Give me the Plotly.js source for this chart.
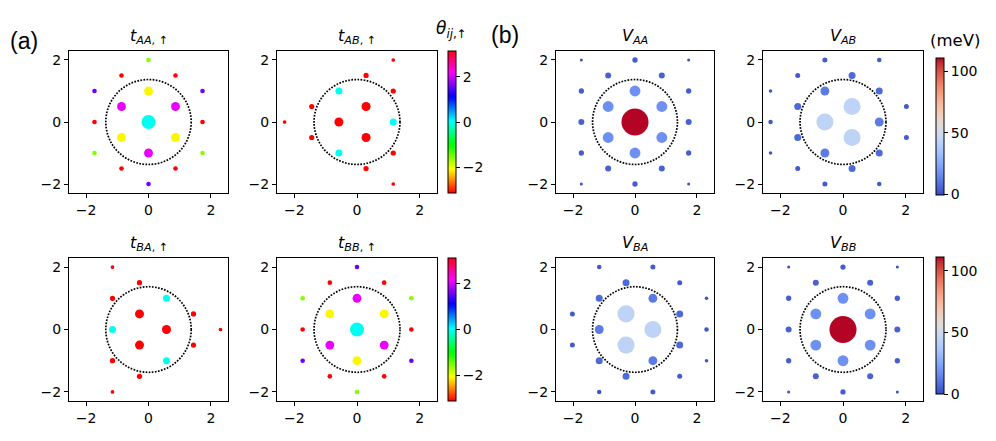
<!DOCTYPE html>
<html>
<head>
<meta charset="utf-8">
<script src="https://cdn.plot.ly/plotly-3.0.1.min.js"></script>
<style>html,body{margin:0;padding:0;background:#fff;}#plot{width:996px;height:441px;}</style>
</head>
<body>
<div id="plot"></div>
<script>
// ---------- data ----------
// A-A (and B-B) neighbour sites (lattice units)
const AA_x = [0, 0, 0.866, 0.866, 0, -0.866, -0.866, 0.866, 1.732, 0.866, -0.866, -1.732, -0.866, 0, 1.732, 1.732, 0, -1.732, -1.732, 1.732, 1.732, -1.732, -1.732];
const AA_y = [0, 1, 0.5, -0.5, -1, -0.5, 0.5, 1.5, 0, -1.5, -1.5, 0, 1.5, 2, 1, -1, -2, -1, 1, 2, -2, -2, 2];
// A-B neighbour sites
const AB_x = [-0.577, 0.289, 0.289, -0.577, -0.577, 1.155, 0.289, 1.155, 1.155, 0.289, -1.443, -1.443, -0.577, -0.577, 2.021, 2.021, -1.443, -1.443, -2.309, 1.155, 1.155, -2.309, -2.309];
const AB_y = [0, 0.5, -0.5, 1, -1, 0, 1.5, 1, -1, -1.5, -0.5, 0.5, 2, -2, 0.5, -0.5, 1.5, -1.5, 0, 2, -2, 1, -1];
// B-A sites are the mirror (x -> -x) of A-B sites
const BA_x = AB_x.map(v => -v);
const BA_y = AB_y.slice();

const PI = 3.1416;
// hopping magnitudes |t| (arb.) and phases theta_ij (rad)
const tAA_abs   = [20, 8, 8, 8, 8, 8, 8, 2.2, 2.2, 2.2, 2.2, 2.2, 2.2, 2.2, 2.2, 2.2, 2.2, 2.2, 2.2, 0, 0, 0, 0];
const tAA_phase = [0, -2.094, 2.094, -2.094, 2.094, -2.094, 2.094, -PI, -PI, -PI, -PI, -PI, -PI, -1.571, 1.571, -1.571, 1.571, -1.571, 1.571, 0, 0, 0, 0];
const tBB_abs   = tAA_abs.slice();
const tBB_phase = [0, 2.094, -2.094, 2.094, -2.094, 2.094, -2.094, -PI, -PI, -PI, -PI, -PI, -PI, 1.571, -1.571, 1.571, -1.571, 1.571, -1.571, 0, 0, 0, 0];
const tAB_abs   = [8.3, 8.3, 8.3, 5.0, 5.0, 5.0, 2.8, 2.8, 2.8, 2.8, 2.8, 2.8, 0, 0, 0, 0, 0, 0, 1.4, 1.4, 1.4, 0, 0];
const tAB_phase = [-PI, -PI, -PI, 0, 0, 0, -PI, -PI, -PI, -PI, -PI, -PI, 0, 0, 0, 0, 0, 0, -PI, -PI, -PI, 0, 0];
const tBA_abs   = tAB_abs.slice();
const tBA_phase = tAB_phase.slice();
// interaction V (meV)
const VAA = [111, 18, 18, 18, 18, 18, 18, 5.5, 5.5, 5.5, 5.5, 5.5, 5.5, 4.3, 4.3, 4.3, 4.3, 4.3, 4.3, 1.4, 1.4, 1.4, 1.4];
const VBB = VAA.slice();
const VAB = [44, 44, 44, 12, 12, 12, 7.4, 7.4, 7.4, 7.4, 7.4, 7.4, 3.8, 3.8, 3.8, 3.8, 3.8, 3.8, 3.1, 3.1, 3.1, 1.9, 1.9];
const VBA = VAB.slice();

const circleR = 1.37;
const thetaTicks = [-2, 0, 2];
const VTicks = [0, 50, 100];

// ---------- styles ----------
const hsv = [
  [0, 'rgb(255,0,0)'], [0.1587, 'rgb(255,239,0)'], [0.1746, 'rgb(247,255,0)'],
  [0.3333, 'rgb(8,255,0)'], [0.3492, 'rgb(0,255,16)'], [0.5079, 'rgb(0,255,255)'],
  [0.6667, 'rgb(0,16,255)'], [0.6825, 'rgb(8,0,255)'], [0.8413, 'rgb(247,0,255)'],
  [0.8571, 'rgb(255,0,239)'], [1, 'rgb(255,0,24)']
];
const cwRGB = [[59,76,192],[68,90,204],[77,104,215],[87,117,225],[98,130,234],[108,142,241],[119,154,247],[130,165,251],[141,176,254],[152,185,255],[163,194,255],[174,201,253],[184,208,249],[194,213,244],[204,217,238],[213,219,230],[221,221,221],[229,216,209],[236,211,197],[241,204,185],[245,196,173],[247,187,160],[247,177,148],[247,166,135],[244,154,123],[241,141,111],[236,127,99],[229,112,88],[222,96,77],[213,80,66],[203,62,56],[192,40,47],[180,4,38]];
const coolwarm = cwRGB.map((c, i) => [i / (cwRGB.length - 1), 'rgb(' + c.join(',') + ')']);

const tSize = a => a.map(v => 3.13 * Math.sqrt(v));
const VSize = a => a.map(v => 2.57 * Math.sqrt(v));

const W = 996, H = 441;
const fx = px => px / W;
const fy = py => 1 - py / H;
const cols = [[69, 228], [277, 437], [556, 714], [763, 923]];
const rows = [[51, 193], [258, 401]];

function mk(x, y, size, color, ca, idx) {
  const s = idx === 1 ? '' : String(idx);
  return {
    type: 'scatter', mode: 'markers', x: x, y: y,
    xaxis: 'x' + s, yaxis: 'y' + s, hoverinfo: 'skip', cliponaxis: true,
    marker: {size: size, color: color, coloraxis: ca, line: {width: 0}, opacity: 1}
  };
}

const data = [
  mk(AA_x, AA_y, tSize(tAA_abs), tAA_phase, 'coloraxis', 1),
  mk(AB_x, AB_y, tSize(tAB_abs), tAB_phase, 'coloraxis', 2),
  mk(BA_x, BA_y, tSize(tBA_abs), tBA_phase, 'coloraxis2', 3),
  mk(AA_x, AA_y, tSize(tBB_abs), tBB_phase, 'coloraxis2', 4),
  mk(AA_x, AA_y, VSize(VAA), VAA, 'coloraxis3', 5),
  mk(AB_x, AB_y, VSize(VAB), VAB, 'coloraxis3', 6),
  mk(BA_x, BA_y, VSize(VBA), VBA, 'coloraxis4', 7),
  mk(AA_x, AA_y, VSize(VBB), VBB, 'coloraxis4', 8)
];

const layout = {
  width: W, height: H,
  margin: {l: 0, r: 0, t: 0, b: 0},
  paper_bgcolor: 'white', plot_bgcolor: 'white',
  showlegend: false,
  font: {family: 'DejaVu Sans', size: 14, color: 'black'},
  annotations: [], shapes: []
};

const panelCol = [0, 1, 0, 1, 2, 3, 2, 3];
const panelRow = [0, 0, 1, 1, 0, 0, 1, 1];
const titles = [
  '<i>t</i><sub><i>AA</i>, ↑</sub>', '<i>t</i><sub><i>AB</i>, ↑</sub>',
  '<i>t</i><sub><i>BA</i>, ↑</sub>', '<i>t</i><sub><i>BB</i>, ↑</sub>',
  '<i>V</i><sub><i>AA</i></sub>', '<i>V</i><sub><i>AB</i></sub>',
  '<i>V</i><sub><i>BA</i></sub>', '<i>V</i><sub><i>BB</i></sub>'
];

for (let i = 0; i < 8; i++) {
  const s = i === 0 ? '' : String(i + 1);
  const c = cols[panelCol[i]], r = rows[panelRow[i]];
  const common = {
    tickvals: [-2, 0, 2], ticks: 'outside', ticklen: 4, tickwidth: 1, tickcolor: 'black',
    showline: true, mirror: true, linecolor: 'black', linewidth: 1,
    showgrid: false, zeroline: false, tickfont: {size: 14, color: 'black'}, fixedrange: true
  };
  layout['xaxis' + s] = Object.assign({}, common, {domain: [fx(c[0]), fx(c[1])], anchor: 'y' + s, range: [-2.55, 2.55]});
  layout['yaxis' + s] = Object.assign({}, common, {domain: [fy(r[1]), fy(r[0])], anchor: 'x' + s, range: [-2.29, 2.29]});
  layout.shapes.push({
    type: 'circle', xref: 'x' + s, yref: 'y' + s,
    x0: -circleR, x1: circleR, y0: -circleR, y1: circleR,
    line: {color: 'black', width: 1.7, dash: '1.7px,1.4px'}
  });
  layout.annotations.push({
    text: titles[i], xref: 'paper', yref: 'paper',
    x: fx((c[0] + c[1]) / 2), y: fy(r[0] - 14.5), xanchor: 'center', yanchor: 'middle',
    showarrow: false, font: {size: 16, family: 'DejaVu Sans', color: 'black'}
  });
}

function cbar(xpx, ytop, lenpx, ticks) {
  return {
    x: fx(xpx), xanchor: 'left', y: fy(ytop), yanchor: 'top',
    len: lenpx, lenmode: 'pixels', thickness: 8, thicknessmode: 'pixels',
    outlinewidth: 1, outlinecolor: 'black', xpad: 0, ypad: 0, borderwidth: 0,
    tickvals: ticks, ticks: 'outside', ticklen: 4, tickwidth: 1, tickcolor: 'black',
    tickfont: {size: 14, color: 'black'}
  };
}

layout.coloraxis  = {colorscale: hsv, cmin: -Math.PI, cmax: Math.PI, colorbar: cbar(448, 51, 142, thetaTicks)};
layout.coloraxis2 = {colorscale: hsv, cmin: -Math.PI, cmax: Math.PI, colorbar: cbar(448, 258, 143, thetaTicks)};
layout.coloraxis3 = {colorscale: coolwarm, cmin: 0, cmax: 111, colorbar: cbar(936, 57.5, 136.5, VTicks)};
layout.coloraxis4 = {colorscale: coolwarm, cmin: 0, cmax: 111, colorbar: cbar(936, 257.3, 137, VTicks)};

layout.annotations.push(
  {text: '(a)', xref: 'paper', yref: 'paper', x: fx(24), y: fy(41), xanchor: 'center', yanchor: 'middle', showarrow: false, font: {size: 23, family: 'Liberation Sans', color: 'black'}},
  {text: '(b)', xref: 'paper', yref: 'paper', x: fx(505), y: fy(35), xanchor: 'center', yanchor: 'middle', showarrow: false, font: {size: 23, family: 'Liberation Sans', color: 'black'}},
  {text: '<i>θ</i><sub><i>ij</i>,↑</sub>', xref: 'paper', yref: 'paper', x: fx(451), y: fy(29), xanchor: 'center', yanchor: 'middle', showarrow: false, font: {size: 17, family: 'DejaVu Sans', color: 'black'}},
  {text: '(meV)', xref: 'paper', yref: 'paper', x: fx(955), y: fy(40.5), xanchor: 'center', yanchor: 'middle', showarrow: false, font: {size: 16.5, family: 'DejaVu Sans', color: 'black'}}
);

Plotly.newPlot('plot', data, layout, {staticPlot: true, displayModeBar: false});
</script>
</body>
</html>
